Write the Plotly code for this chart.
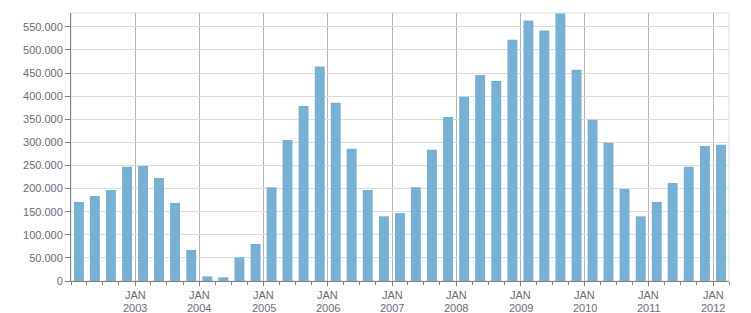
import plotly.graph_objects as go

# Quarterly data, 2002 Q1 .. 2012 Q1
quarters = [
    "2002-01", "2002-04", "2002-07", "2002-10",
    "2003-01", "2003-04", "2003-07", "2003-10",
    "2004-01", "2004-04", "2004-07", "2004-10",
    "2005-01", "2005-04", "2005-07", "2005-10",
    "2006-01", "2006-04", "2006-07", "2006-10",
    "2007-01", "2007-04", "2007-07", "2007-10",
    "2008-01", "2008-04", "2008-07", "2008-10",
    "2009-01", "2009-04", "2009-07", "2009-10",
    "2010-01", "2010-04", "2010-07", "2010-10",
    "2011-01", "2011-04", "2011-07", "2011-10",
    "2012-01",
]
values = [
    171000, 184000, 197000, 247000,
    249000, 223000, 169000, 67000,
    10000, 8000, 51000, 80000,
    203000, 305000, 379000, 464000,
    386000, 286000, 197000, 140000,
    147000, 203000, 284000, 355000,
    399000, 446000, 433000, 522000,
    564000, 542000, 579000, 457000,
    349000, 299000, 199000, 140000,
    171000, 212000, 247000, 292000,
    295000,
]
year_ticks = ["2003", "2004", "2005", "2006", "2007", "2008", "2009", "2010", "2011", "2012"]
month_label = "JAN"

x_dates = [q + "-01" for q in quarters]
tick_vals = [y + "-01-01" for y in year_ticks]

font_color = "#6b6b7b"
fnt = dict(family="Liberation Sans, Arial, sans-serif", size=11, color=font_color)

fig = go.Figure(
    go.Bar(
        x=x_dates,
        y=values,
        xperiod="M3",
        xperiodalignment="middle",
        marker=dict(color="#78b0d4", line=dict(width=0)),
    )
)

annotations = []
for tv, yr in zip(tick_vals, year_ticks):
    annotations.append(dict(x=tv, xref="x", y=0, yref="paper", text=month_label,
                            showarrow=False, yanchor="middle", xanchor="center",
                            yshift=-14, font=fnt))
    annotations.append(dict(x=tv, xref="x", y=0, yref="paper", text=yr,
                            showarrow=False, yanchor="middle", xanchor="center",
                            yshift=-26.5, font=fnt))

fig.update_layout(
    width=751,
    height=313,
    margin=dict(l=71, r=22, t=13, b=32),
    paper_bgcolor="white",
    plot_bgcolor="white",
    bargap=0.375,
    separators=",.",
    showlegend=False,
    font=fnt,
    annotations=annotations,
    shapes=[
        dict(type="rect", xref="paper", yref="paper", x0=0, x1=1, y0=0, y1=1,
             line=dict(color="#dcdcdc", width=1), layer="below"),
    ],
)

fig.update_xaxes(
    type="date",
    range=["2002-01-01", "2012-04-01"],
    tickmode="array",
    tickvals=tick_vals,
    showticklabels=False,
    ticks="outside",
    ticklen=4,
    tickcolor="#808080",
    showgrid=True,
    gridcolor="#b4b4b4",
    gridwidth=1,
    showline=True,
    linecolor="#808080",
    linewidth=1,
    zeroline=False,
    automargin=False,
    minor=dict(tickmode="linear", tick0="2002-01-01", dtick="M3", ticks="outside",
               ticklen=3, tickcolor="#808080", showgrid=False),
)

fig.update_yaxes(
    range=[0, 580000],
    tickmode="linear",
    tick0=0,
    dtick=50000,
    tickformat=",d",
    ticks="outside",
    ticklen=5,
    tickcolor="#808080",
    showgrid=True,
    gridcolor="#dcdcdc",
    gridwidth=1,
    showline=True,
    linecolor="#808080",
    linewidth=1,
    zeroline=False,
    automargin=False,
    tickfont=fnt,
)

fig.write_html("out.html")
